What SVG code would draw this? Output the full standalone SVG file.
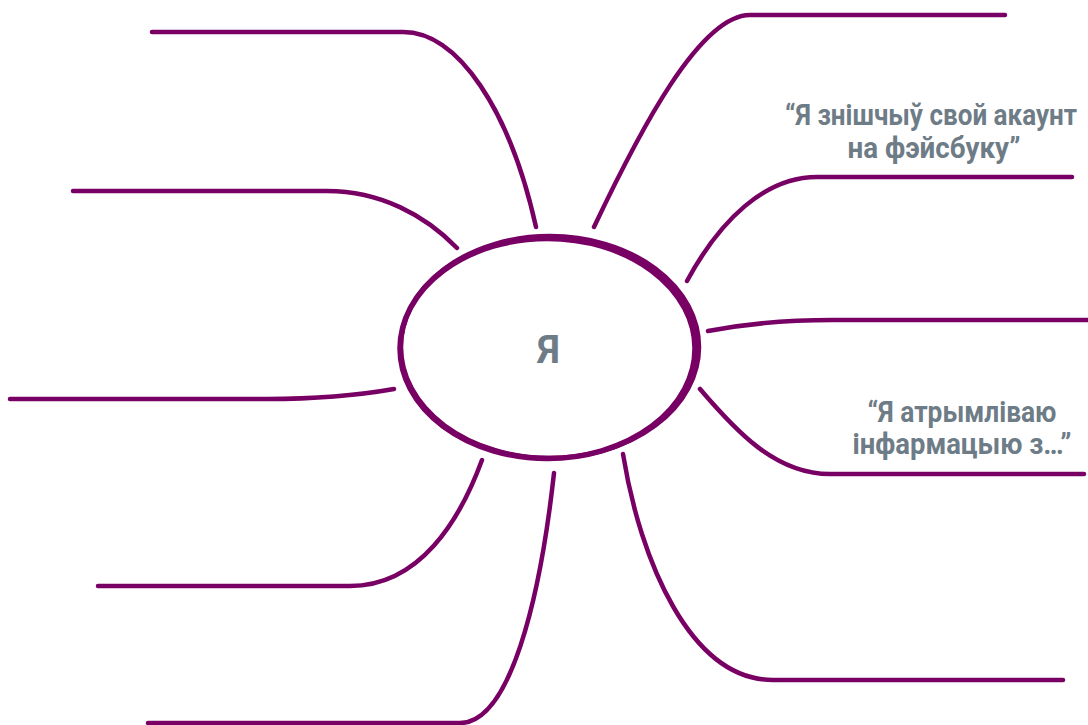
<svg xmlns="http://www.w3.org/2000/svg" width="1088" height="725" viewBox="0 0 1088 725">
<style>
.ln{fill:none;stroke:#780064;stroke-width:4.5;stroke-linecap:round;stroke-linejoin:round}
.el{fill:none;stroke:#780064}
.t{font-family:Roboto,"Noto Sans","DejaVu Sans",sans-serif;font-weight:700;fill:#6d7c86;text-anchor:middle}
</style>
<rect width="1088" height="725" fill="#ffffff"/>
<g id="connectors">
<path class="ln" d="M152,32 L403,32 C458,32 510,110 536,227"/>
<path class="ln" d="M73,191 L327,191 C380,191 425,215 457,248"/>
<path class="ln" d="M10,399 L267,399 C320,399 360,395 394,389"/>
<path class="ln" d="M98,586 L350,586 C420,586 460,520 482,460"/>
<path class="ln" d="M148,723 L460,723 C510,723 540,600 554,473"/>
<path class="ln" d="M594,227 C640,130 700,15 750,15 L1005,15"/>
<path class="ln" d="M687,281 C720,220 765,177 817,177 L1072,177"/>
<path class="ln" d="M708,331 C750,323 790,320 833,320 L1092,320"/>
<path class="ln" d="M700,389 C735,430 775,474 830,474 L1084,474"/>
<path class="ln" d="M623,454 C640,560 690,680 773,680 L1063,680"/>
</g>
<g id="node-me">
<ellipse class="el" cx="550" cy="347" rx="149" ry="111" stroke-width="4.5"/>
<ellipse class="el" cx="547.5" cy="348.5" rx="147.5" ry="110" stroke-width="5.5"/>
<text class="t" x="548.5" y="363" font-size="38">Я</text>
</g>
<g id="label-facebook">
<text class="t" x="931" y="125" font-size="29" textLength="292" lengthAdjust="spacingAndGlyphs">“Я знішчыў свой акаунт</text>
<text class="t" x="934" y="158" font-size="29" textLength="173" lengthAdjust="spacingAndGlyphs">на фэйсбуку”</text>
</g>
<g id="label-info">
<text class="t" x="962" y="422" font-size="29" textLength="189" lengthAdjust="spacingAndGlyphs">“Я атрымліваю</text>
<text class="t" x="962" y="454" font-size="29" textLength="219" lengthAdjust="spacingAndGlyphs">інфармацыю з…”</text>
</g>
</svg>
